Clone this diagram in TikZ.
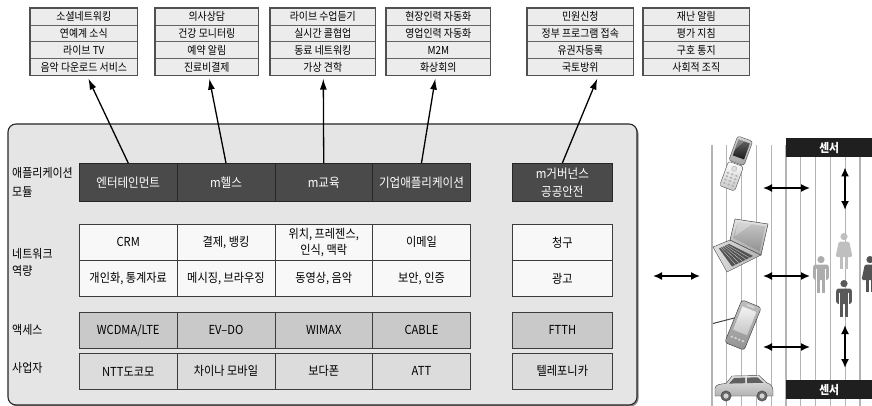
\documentclass[tikz,border=0pt]{standalone}
\usepackage{fontspec}
\setmainfont[FakeStretch=0.9]{Noto Sans CJK KR}
\usetikzlibrary{arrows.meta,calc}

\definecolor{panelfill}{HTML}{E5E5E5}
\definecolor{topfill}{HTML}{ECECEC}
\definecolor{moddark}{HTML}{4A4A4A}
\definecolor{netfill}{HTML}{F8F8F8}
\definecolor{accfill}{HTML}{C9C9C9}
\definecolor{opfill}{HTML}{DCDCDC}
\definecolor{cellline}{HTML}{3C3C3C}
\definecolor{streak}{HTML}{B4B4B4}

% four stacked service boxes: name, left x, right x, four texts
\newcommand\servicebox[7]{%
  \pgfmathsetmacro\sbw{#3-#2}%
  \node[topcell, minimum width=\sbw pt] (#1a) at (#2,8) {#4};
  \node[topcell, minimum width=\sbw pt] (#1b) at (#2,24.75) {#5};
  \node[topcell, minimum width=\sbw pt] (#1c) at (#2,41.5) {#6};
  \node[topcell, minimum width=\sbw pt] (#1d) at (#2,58.25) {#7};
  \draw[topframe] (#1a.north west) rectangle (#1d.south east);
}

% pictogram of a man: x, top y, colour
\newcommand\manfig[3]{%
  \fill[#3] (#1,{#2+3.6}) circle (3.6);
  \fill[#3, rounded corners=2.5pt] ({#1-7.8},{#2+8.5}) rectangle ({#1+7.8},{#2+24});
  \draw[white, line width=0.8pt] ({#1-4.8},{#2+12.5}) -- ({#1-4.8},{#2+24.5})
                                 ({#1+4.8},{#2+12.5}) -- ({#1+4.8},{#2+24.5});
  \fill[#3] ({#1-4.4},{#2+23}) rectangle ({#1-0.6},{#2+37});
  \fill[#3] ({#1+0.6},{#2+23}) rectangle ({#1+4.4},{#2+37});
}
% pictogram of a woman: x, top y, colour
\newcommand\womanfig[3]{%
  \fill[#3] (#1,{#2+3.6}) circle (3.6);
  \fill[#3, rounded corners=1.5pt] ({#1-5.2},{#2+8.5}) -- ({#1+5.2},{#2+8.5})
        -- ({#1+8.5},{#2+24}) -- ({#1-8.5},{#2+24}) -- cycle;
  \fill[#3] ({#1-4},{#2+23}) rectangle ({#1-0.6},{#2+36});
  \fill[#3] ({#1+0.6},{#2+23}) rectangle ({#1+4},{#2+36});
}

\begin{document}
\begin{tikzpicture}[x=1pt,y=-1pt,
  topcell/.style={draw=cellline!80, line width=0.6pt, fill=topfill, anchor=north west,
    minimum height=16.75pt, inner sep=0pt, font=\fontsize{11}{12}\selectfont},
  topframe/.style={draw=cellline!90, line width=1.3pt},
  cellbase/.style={draw=cellline, line width=0.7pt, inner sep=1pt, align=center,
    anchor=north west, minimum width=97.75pt, font=\fontsize{12.4}{15}\selectfont},
  modcell/.style={cellbase, fill=moddark, draw=black!85, text=white, minimum height=38pt,
    font=\fontsize{12.8}{17}\selectfont},
  netcell/.style={cellbase, fill=netfill, minimum height=36pt},
  acccell/.style={cellbase, fill=accfill, minimum height=36pt},
  opcell/.style={cellbase, fill=opfill, minimum height=36pt},
  widecell/.style={minimum width=100pt},
  rowlabel/.style={anchor=west, align=left, inner sep=0pt, font=\fontsize{12.2}{19}\selectfont},
  toparr/.style={-{Latex[length=11pt,width=7pt]}, line width=1.3pt},
  dblarr/.style={{Latex[length=9pt,width=8pt]}-{Latex[length=9pt,width=8pt]}, line width=1.6pt},
  sensorbar/.style={fill=black!88, text=white, anchor=north west, minimum width=86pt,
    minimum height=19pt, inner sep=0pt, font=\fontsize{12}{13}\bfseries\selectfont}
]
\useasboundingbox (0,0) rectangle (872,406);

% ---------- service boxes on top ----------
\servicebox{t1}{30}{137}{소셜네트워킹}{연예계 소식}{라이브 TV}{음악 다운로드 서비스}
\servicebox{t2}{155}{258}{의사상담}{건강 모니터링}{예약 알림}{진료비결제}
\servicebox{t3}{270}{375}{라이브 수업듣기}{실시간 콜협업}{동료 네트워킹}{가상 견학}
\servicebox{t4}{386}{490}{현장인력 자동화}{영업인력 자동화}{M2M}{화상회의}
\servicebox{t5}{527}{633}{민원신청}{정부 프로그램 접속}{유권자등록}{국토방위}
\servicebox{t6}{643}{749}{재난 알림}{평가 지침}{구호 통지}{사회적 조직}

% ---------- main panel ----------
\fill[black!45, rounded corners=8pt] (9.5,125.5) rectangle (638.5,406.5);
\draw[fill=panelfill, draw=black!85, line width=1.1pt, rounded corners=8pt] (8,124) rectangle (637,405);

% row labels
\node[rowlabel] (l1) at (12,182) {애플리케이션\\모듈};
\node[rowlabel, font=\fontsize{12.2}{17}\selectfont] (l2) at (12,262) {네트워크\\역량};
\node[rowlabel] (l3) at (12,330) {액세스};
\node[rowlabel] (l4) at (12,368) {사업자};

% application modules
\node[modcell] (m1) at (79,163) {엔터테인먼트};
\node[modcell] (m2) at (176.75,163) {m헬스};
\node[modcell] (m3) at (274.5,163) {m교육};
\node[modcell] (m4) at (372.25,163) {기업애플리케이션};
\node[modcell, widecell, font=\fontsize{12.8}{18}\selectfont] (m5) at (512,163) {m거버넌스\\공공안전};

% network capabilities
\node[netcell] (n1) at (79,224) {CRM};
\node[netcell] (n2) at (176.75,224) {결제, 뱅킹};
\node[netcell, font=\fontsize{12.4}{15.5}\selectfont] (n3) at (274.5,224) {위치, 프레젠스,\\인식, 맥락};
\node[netcell] (n4) at (372.25,224) {이메일};
\node[netcell, widecell] (n5) at (512,224) {청구};
\node[netcell] (p1) at (79,260) {개인화, 통계자료};
\node[netcell] (p2) at (176.75,260) {메시징, 브라우징};
\node[netcell] (p3) at (274.5,260) {동영상, 음악};
\node[netcell] (p4) at (372.25,260) {보안, 인증};
\node[netcell, widecell] (p5) at (512,260) {광고};

% access technologies
\node[acccell] (a1) at (79,312) {WCDMA/LTE};
\node[acccell] (a2) at (176.75,312) {EV--DO};
\node[acccell] (a3) at (274.5,312) {WIMAX};
\node[acccell] (a4) at (372.25,312) {CABLE};
\node[acccell, widecell] (a5) at (512,312) {FTTH};

% operators
\node[opcell] (o1) at (79,353) {NTT도코모};
\node[opcell] (o2) at (176.75,353) {차이나 모바일};
\node[opcell] (o3) at (274.5,353) {보다폰};
\node[opcell] (o4) at (372.25,353) {ATT};
\node[opcell, widecell] (o5) at (512,353) {텔레포니카};

% module -> service arrows
\draw[toparr] (m1.north) -- ($(t1d.south)+(4.5,3)$);
\draw[toparr] (m2.north) -- ($(t2d.south)+(2.5,3)$);
\draw[toparr] (m3.north) -- ($(t3d.south)+(0.5,3)$);
\draw[toparr] (m4.north) -- ($(t4d.south)+(-3,3)$);
\draw[toparr] (m5.north) -- ($(t5d.south)+(17,3)$);

% ---------- devices, people and sensors ----------
\foreach \k in {0,...,11}
  \draw[streak, line width=1.1pt] ({712+14.8*\k},145) -- ({712+14.8*\k},406);

% flip phone
\begin{scope}[shift={(736,164)}, rotate=-20]
  \shade[top color=gray!35, bottom color=gray!70, draw=gray!60!black, line width=0.4pt,
         rounded corners=2.5pt] (-8,-27) rectangle (8,-1);
  \shade[top color=black!60, bottom color=black!90] (-6,-24) rectangle (6,-7);
  \fill[white, opacity=0.25] (-6,-24) -- (0,-24) -- (-6,-13) -- cycle;
  \shade[top color=white, bottom color=gray!45, draw=gray!60!black, line width=0.4pt,
         rounded corners=2.5pt] (-8,0) rectangle (8,26);
  \filldraw[fill=gray!25, draw=gray!60] (0,5) circle (2.6);
  \foreach \r in {0,...,3}
    \foreach \c in {-1,0,1}
      \fill[gray!60] ({\c*4.5},{11+\r*3.6}) ellipse (1.6 and 1.1);
\end{scope}

% laptop
\shade[left color=gray!25, right color=gray!60, draw=gray!55!black, line width=0.4pt]
  (730,240) -- (761,255) -- (727,272) -- (713,247) -- cycle;
\fill[gray!65!black] (729,244) -- (753,256) -- (732,266.5) -- (719,248.5) -- cycle;
\foreach \j in {1,...,5}
  \draw[gray!30, line width=0.3pt] ({729-10*\j/6},{244+4.5*\j/6}) -- ({753-21*\j/6},{256+10.5*\j/6});
\shade[top color=gray!20, bottom color=gray!70, draw=gray!55!black, line width=0.5pt]
  (730,240) -- (735,219) -- (768,224) -- (761,255) -- cycle;
\shade[top color=gray!45, bottom color=gray!85] (733,238) -- (737.5,222) -- (765.5,226.3) -- (759.5,251.5) -- cycle;
\fill[white, opacity=0.3] (737.5,222) -- (752,224.2) -- (735,236) -- cycle;

% pocket computer with stylus
\draw[gray!55!black, line width=1pt] (713,323.5) -- (740,316.5);
\begin{scope}[shift={(743,325)}, rotate=-22]
  \shade[top color=gray!50, bottom color=gray!85, draw=gray!40!black, line width=0.4pt,
         rounded corners=3pt] (-10.5,-23) rectangle (10.5,23);
  \shade[top color=gray!10, bottom color=gray!45] (-7.5,-17) rectangle (7.5,8);
  \fill[gray!30] (-4,-21) rectangle (4,-19.5);
  \foreach \c in {-6,-2,2,6}
    \fill[gray!35] (\c,15) ellipse (1.6 and 1.2);
\end{scope}

% car
\shade[top color=gray!20, bottom color=gray!60, draw=gray!45!black, line width=0.4pt]
  (715,396) -- (715,388) .. controls (716,384.5) and (720,384) .. (726,383.5)
  -- (732,376) -- (759,375.5) -- (767,383) .. controls (771,384) and (773,387) .. (773,391)
  -- (773,396) -- cycle;
\fill[gray!75!black] (734,378) -- (745,377.6) -- (745,383.2) -- (729,383.6) -- cycle;
\fill[gray!75!black] (747,377.6) -- (757.5,377.3) -- (763.5,382.8) -- (747,383.1) -- cycle;
\foreach \w in {726,762} {
  \filldraw[fill=gray!80!black, draw=black!80, line width=0.3pt] (\w,396) circle (5.2);
  \fill[gray!35] (\w,396) circle (2.6);
}

% sensor bars
\node[sensorbar] (s1) at (786,138) {센서};
\node[sensorbar] (s2) at (786,380) {센서};

% people
\manfig{821}{256}{gray!65}
\womanfig{844}{233}{gray!50}
\manfig{844}{280}{gray!70!black}
\womanfig{870}{256}{gray!65!black}

% links
\coordinate (h1a) at (763,188); \coordinate (h1b) at (810,188);
\coordinate (h2a) at (763,276); \coordinate (h2b) at (810,276);
\coordinate (h3a) at (763,347); \coordinate (h3b) at (810,347);
\coordinate (la) at (653,276);  \coordinate (lb) at (700,276);
\coordinate (v1) at (845,210);  \coordinate (v2) at (845,325);
\draw[dblarr] (s1.south -| v1) ++(0,10) -- (v1);
\draw[dblarr] (v2) -- ($(s2.north -| v2)+(0,-12)$);
\draw[dblarr] (h1a) -- (h1b);
\draw[dblarr] (h2a) -- (h2b);
\draw[dblarr] (h3a) -- (h3b);
\draw[dblarr] (la) -- (lb);
\end{tikzpicture}
\end{document}
